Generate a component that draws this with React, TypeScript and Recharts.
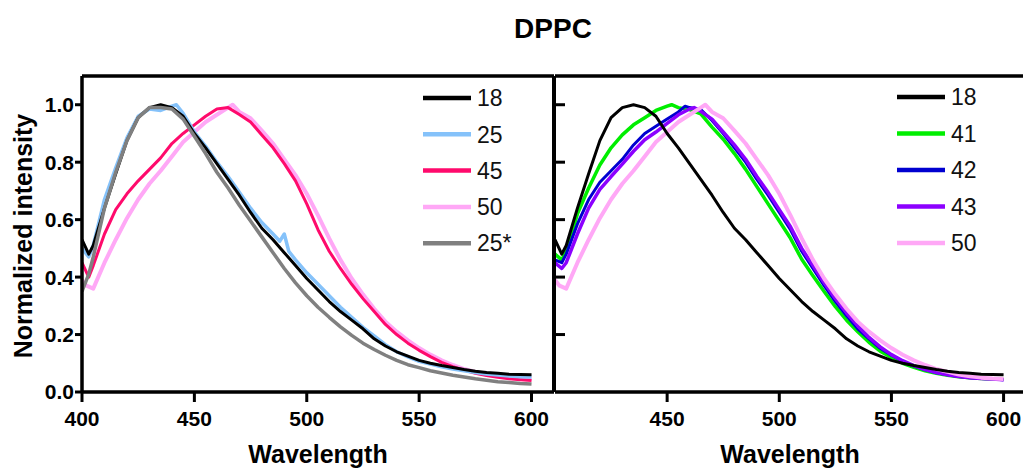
import React from 'react';
import { LineChart, Line, XAxis, YAxis, ReferenceLine } from 'recharts';

const FONT = '"Liberation Sans", Arial, Helvetica, sans-serif';

// Wavelength (nm), normalized intensity pairs
const s18: number[][] = [
  [400, 0.53], [403, 0.48], [405, 0.51], [410, 0.64], [415, 0.76], [420, 0.875], [425, 0.955], [430, 0.99], [435, 1.0],
  [440, 0.99], [445, 0.96], [450, 0.9], [455, 0.85], [460, 0.795], [465, 0.74], [470, 0.685], [475, 0.625], [480, 0.57],
  [485, 0.53], [490, 0.485], [495, 0.44], [500, 0.395], [505, 0.355], [510, 0.315], [515, 0.28], [520, 0.25], [525, 0.22],
  [530, 0.185], [535, 0.16], [540, 0.14], [545, 0.125], [550, 0.11], [555, 0.1], [560, 0.092], [565, 0.085], [570, 0.078],
  [575, 0.072], [580, 0.068], [585, 0.065], [590, 0.062], [595, 0.061], [600, 0.06],
];
const s25: number[][] = [
  [400, 0.5], [403, 0.47], [405, 0.51], [410, 0.67], [415, 0.78], [420, 0.885], [425, 0.96], [430, 0.985], [435, 0.98],
  [440, 0.995], [442, 1.0], [445, 0.97], [450, 0.905], [455, 0.855], [460, 0.8], [465, 0.75], [470, 0.695], [475, 0.64],
  [480, 0.59], [485, 0.55], [488, 0.525], [490, 0.55], [492, 0.49], [495, 0.46], [500, 0.415], [505, 0.375], [510, 0.335],
  [515, 0.295], [520, 0.26], [525, 0.225], [530, 0.195], [535, 0.165], [540, 0.14], [545, 0.122], [550, 0.107], [555, 0.097],
  [560, 0.088], [565, 0.08], [570, 0.074], [575, 0.068], [580, 0.063], [585, 0.059], [590, 0.056], [595, 0.053], [600, 0.052],
];
const s45: number[][] = [
  [400, 0.45], [403, 0.4], [405, 0.44], [410, 0.55], [415, 0.635], [420, 0.69], [425, 0.735], [430, 0.775], [435, 0.815],
  [440, 0.865], [445, 0.9], [450, 0.93], [455, 0.96], [460, 0.985], [465, 0.99], [470, 0.966], [475, 0.94], [480, 0.895],
  [485, 0.85], [490, 0.795], [495, 0.735], [500, 0.655], [505, 0.565], [510, 0.49], [515, 0.43], [520, 0.375], [525, 0.325],
  [530, 0.28], [535, 0.235], [540, 0.2], [545, 0.17], [550, 0.145], [555, 0.123], [560, 0.103], [565, 0.088], [570, 0.076],
  [575, 0.065], [580, 0.057], [585, 0.051], [590, 0.046], [595, 0.043], [600, 0.04],
];
const s50: number[][] = [
  [400, 0.39], [402, 0.37], [405, 0.36], [410, 0.45], [415, 0.53], [420, 0.605], [425, 0.67], [430, 0.725], [435, 0.77],
  [440, 0.82], [445, 0.87], [450, 0.905], [455, 0.94], [460, 0.965], [465, 0.99], [467, 1.0], [470, 0.975], [475, 0.953],
  [480, 0.91], [485, 0.865], [490, 0.81], [495, 0.755], [500, 0.69], [505, 0.615], [510, 0.535], [515, 0.46], [520, 0.395],
  [525, 0.34], [530, 0.29], [535, 0.245], [540, 0.21], [545, 0.18], [550, 0.153], [555, 0.13], [560, 0.11], [565, 0.094],
  [570, 0.08], [575, 0.07], [580, 0.061], [585, 0.055], [590, 0.05], [595, 0.047], [600, 0.045],
];
const s25star: number[][] = [
  [400, 0.35], [403, 0.41], [405, 0.47], [410, 0.64], [415, 0.765], [420, 0.875], [425, 0.955], [430, 0.99], [435, 0.99],
  [440, 0.985], [445, 0.95], [450, 0.89], [455, 0.83], [460, 0.765], [465, 0.71], [470, 0.65], [475, 0.595], [480, 0.54],
  [485, 0.485], [490, 0.43], [495, 0.38], [500, 0.335], [505, 0.295], [510, 0.26], [515, 0.227], [520, 0.197], [525, 0.17],
  [530, 0.148], [535, 0.128], [540, 0.11], [545, 0.095], [550, 0.085], [555, 0.074], [560, 0.066], [565, 0.058], [570, 0.052],
  [575, 0.046], [580, 0.041], [585, 0.036], [590, 0.033], [595, 0.03], [600, 0.028],
];
const s41: number[][] = [
  [400, 0.48], [403, 0.46], [405, 0.49], [410, 0.62], [415, 0.71], [420, 0.79], [425, 0.85], [430, 0.895], [435, 0.93],
  [440, 0.955], [445, 0.98], [450, 0.995], [452, 1.0], [455, 0.99], [460, 0.983], [465, 0.968], [470, 0.922], [475, 0.88],
  [480, 0.83], [485, 0.775], [490, 0.715], [495, 0.655], [500, 0.595], [505, 0.535], [510, 0.462], [515, 0.405], [520, 0.35],
  [525, 0.297], [530, 0.25], [535, 0.21], [540, 0.173], [545, 0.142], [550, 0.12], [555, 0.1], [560, 0.086], [565, 0.074],
  [570, 0.065], [575, 0.058], [580, 0.053], [585, 0.05], [590, 0.047], [595, 0.045], [600, 0.044],
];
const s42: number[][] = [
  [400, 0.46], [403, 0.45], [405, 0.48], [410, 0.585], [415, 0.67], [420, 0.73], [425, 0.77], [430, 0.81], [435, 0.86],
  [440, 0.9], [445, 0.925], [450, 0.95], [455, 0.975], [458, 0.995], [460, 0.99], [465, 0.983], [470, 0.945], [475, 0.9],
  [480, 0.85], [485, 0.8], [490, 0.74], [495, 0.685], [500, 0.625], [505, 0.565], [510, 0.49], [515, 0.43], [520, 0.37],
  [525, 0.315], [530, 0.265], [535, 0.22], [540, 0.185], [545, 0.152], [550, 0.128], [555, 0.107], [560, 0.09], [565, 0.077],
  [570, 0.067], [575, 0.06], [580, 0.054], [585, 0.05], [590, 0.047], [595, 0.045], [600, 0.043],
];
const s43: number[][] = [
  [400, 0.45], [403, 0.43], [405, 0.45], [410, 0.55], [415, 0.64], [420, 0.705], [425, 0.75], [430, 0.793], [435, 0.838],
  [440, 0.878], [445, 0.905], [450, 0.935], [455, 0.965], [460, 0.985], [462, 0.99], [465, 0.977], [470, 0.95], [475, 0.905],
  [480, 0.86], [485, 0.81], [490, 0.75], [495, 0.695], [500, 0.635], [505, 0.575], [510, 0.5], [515, 0.44], [520, 0.38],
  [525, 0.325], [530, 0.275], [535, 0.23], [540, 0.19], [545, 0.157], [550, 0.13], [555, 0.109], [560, 0.092], [565, 0.078],
  [570, 0.068], [575, 0.06], [580, 0.054], [585, 0.05], [590, 0.047], [595, 0.045], [600, 0.043],
];

const xTicksLeft = [400, 450, 500, 550, 600];
const xTicksRight = [450, 500, 550, 600];
const yTicks = [0, 0.2, 0.4, 0.6, 0.8, 1.0];
const yTicksRight = [0.2, 0.4, 0.6, 0.8, 1.0];
const X_MIN = 400;
const X_MAX = 610;
const Y_MAX = 1.1;

// layout (page pixels)
const PLOT_TOP = 76;
const PLOT_BOTTOM = 392;
const RIGHT_PLOT_LEFT = 555;

type Series = { name: string; data: number[][]; color: string; width: number };

// legend order
const leftLegend: Series[] = [
  { name: '18', data: s18, color: '#000000', width: 3 },
  { name: '25', data: s25, color: '#85c2fa', width: 3.5 },
  { name: '45', data: s45, color: '#ff0a6c', width: 3 },
  { name: '50', data: s50, color: '#ffa8f6', width: 4 },
  { name: '25*', data: s25star, color: '#808080', width: 3.5 },
];
const rightLegend: Series[] = [
  { name: '18', data: s18, color: '#000000', width: 3 },
  { name: '41', data: s41, color: '#00ee00', width: 3.5 },
  { name: '42', data: s42, color: '#0000d0', width: 3 },
  { name: '43', data: s43, color: '#8c00ff', width: 3.5 },
  { name: '50', data: s50, color: '#ffa8f6', width: 4 },
];
// drawing order (bottom to top)
const leftDraw = ['50', '45', '25', '18', '25*'];
const rightDraw = ['41', '42', '43', '50', '18'];

const toPts = (arr: number[][]) => arr.map(([w, v]) => ({ w, v }));

const axisStroke = { stroke: '#000', strokeWidth: 3.5 };
const tickLineStyle = { stroke: '#000', strokeWidth: 3 };
const tickText = { fill: '#000', fontSize: 21, fontWeight: 'bold' as const, fontFamily: FONT };

function renderLines(list: Series[], order: string[]) {
  return order.map((n) => {
    const s = list.find((x) => x.name === n)!;
    return (
      <Line
        key={n}
        yAxisId="main"
        data={toPts(s.data)}
        dataKey="v"
        type="linear"
        stroke={s.color}
        strokeWidth={s.width}
        strokeLinejoin="round"
        dot={false}
        activeDot={false}
        isAnimationActive={false}
      />
    );
  });
}

function LegendBlock({ list, x, y, step }: { list: Series[]; x: number; y: number; step: number }) {
  return (
    <g>
      {list.map((s, i) => (
        <g key={s.name}>
          <line x1={x} x2={x + 48} y1={y + i * step} y2={y + i * step} stroke={s.color} strokeWidth={4.5} />
          <text x={x + 54} y={y + i * step} dy="0.36em" fontSize={23} fontFamily={FONT} fill="#111">
            {s.name}
          </text>
        </g>
      ))}
    </g>
  );
}

// inward tick marks of the right panel's (unlabelled) y axis
function InnerTicks() {
  return (
    <g>
      {yTicksRight.map((t) => {
        const y = PLOT_BOTTOM - (t / Y_MAX) * (PLOT_BOTTOM - PLOT_TOP);
        return <line key={t} x1={RIGHT_PLOT_LEFT - 1} x2={RIGHT_PLOT_LEFT + 10} y1={y} y2={y} stroke="#000" strokeWidth={3} />;
      })}
    </g>
  );
}

export default function App() {
  return (
    <div style={{ position: 'absolute', left: 0, top: 0, width: 1023, height: 468, overflow: 'hidden', background: '#fff' }}>
      <div style={{ position: 'absolute', left: 500, top: 0 }}>
        <LineChart width={540} height={468} margin={{ top: PLOT_TOP, right: 14, bottom: 0, left: RIGHT_PLOT_LEFT - 500 }}>
          <XAxis
            dataKey="w"
            type="number"
            domain={[X_MIN, X_MAX]}
            ticks={xTicksRight}
            allowDataOverflow
            height={468 - PLOT_BOTTOM}
            tickSize={10}
            tickMargin={9}
            axisLine={axisStroke}
            tickLine={tickLineStyle}
            tick={tickText}
          />
          <YAxis yAxisId="main" type="number" domain={[0, Y_MAX]} allowDataOverflow hide />
          <ReferenceLine yAxisId="main" y={Y_MAX} stroke="#000" strokeWidth={3.5} />
          {renderLines(rightLegend, rightDraw)}
        </LineChart>
      </div>
      <div style={{ position: 'absolute', left: 0, top: 0 }}>
        <LineChart width={574} height={468} margin={{ top: PLOT_TOP, right: 0, bottom: 0, left: 0 }}>
          <XAxis
            dataKey="w"
            type="number"
            domain={[X_MIN, X_MAX]}
            ticks={xTicksLeft}
            allowDataOverflow
            height={468 - PLOT_BOTTOM}
            tickSize={10}
            tickMargin={9}
            axisLine={axisStroke}
            tickLine={tickLineStyle}
            tick={tickText}
          />
          <YAxis
            yAxisId="main"
            type="number"
            domain={[0, Y_MAX]}
            ticks={yTicks}
            allowDataOverflow
            width={82}
            tickSize={7}
            tickMargin={1}
            tickFormatter={(v: number) => v.toFixed(1)}
            axisLine={axisStroke}
            tickLine={tickLineStyle}
            tick={tickText}
          />
          {/* shared divider: right edge of left panel = y axis line of right panel */}
          <YAxis
            yAxisId="divider"
            orientation="right"
            type="number"
            domain={[0, Y_MAX]}
            ticks={yTicksRight}
            allowDataOverflow
            width={20}
            tickLine={false}
            tick={false}
            axisLine={{ stroke: '#000', strokeWidth: 4 }}
          />
          <ReferenceLine yAxisId="main" y={Y_MAX} stroke="#000" strokeWidth={3.5} />
          {renderLines(leftLegend, leftDraw)}
        </LineChart>
      </div>
      <svg width={1023} height={468} style={{ position: 'absolute', left: 0, top: 0, pointerEvents: 'none' }}>
        <InnerTicks />
        <text x={553} y={38} textAnchor="middle" fontSize={28} fontWeight="bold" fontFamily={FONT} fill="#000">
          DPPC
        </text>
        <text x={318} y={463} textAnchor="middle" fontSize={25} fontWeight="bold" fontFamily={FONT} fill="#000">
          Wavelength
        </text>
        <text x={790} y={463} textAnchor="middle" fontSize={25} fontWeight="bold" fontFamily={FONT} fill="#000">
          Wavelength
        </text>
        <text
          transform="translate(32,236) rotate(-90)"
          textAnchor="middle"
          fontSize={25}
          fontWeight="bold"
          fontFamily={FONT}
          fill="#000"
        >
          Normalized intensity
        </text>
        <LegendBlock list={leftLegend} x={423} y={98} step={36.3} />
        <LegendBlock list={rightLegend} x={897} y={97} step={36.5} />
      </svg>
    </div>
  );
}
